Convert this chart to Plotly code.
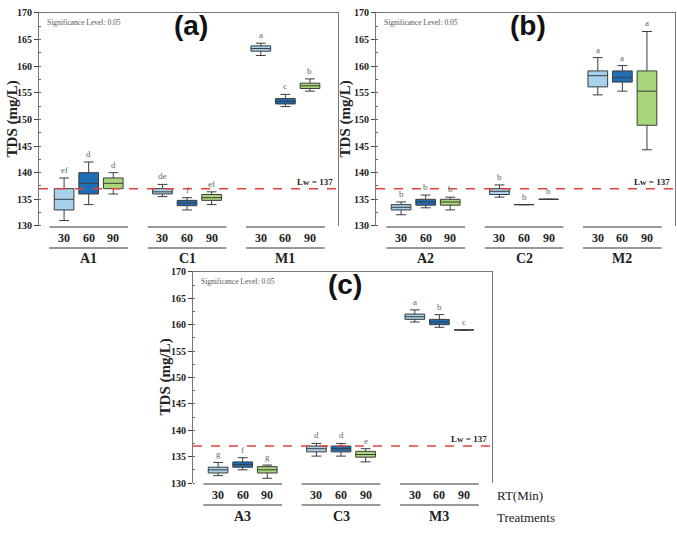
import plotly.graph_objects as go

rt_labels = ["30", "60", "90"]
rt_colors = ["#a8d1ec", "#1f6db5", "#a8d67a"]
limit_value = 137

a_groups = ["A1", "C1", "M1"]
a_lower = [131.0, 134.0, 136.0, 135.5, 133.0, 134.0, 162.0, 152.4, 155.3]
a_q1 = [133.0, 136.0, 137.0, 136.0, 133.8, 134.8, 162.8, 152.9, 155.8]
a_median = [135.0, 138.0, 138.0, 136.4, 134.3, 135.3, 163.3, 153.4, 156.3]
a_q3 = [137.0, 140.0, 139.0, 137.0, 134.8, 135.9, 163.8, 153.9, 156.8]
a_upper = [139.0, 142.0, 140.0, 137.8, 135.3, 136.4, 164.3, 154.7, 157.6]
a_letters = ["ef", "d", "d", "de", "f", "ef", "a", "c", "b"]

b_groups = ["A2", "C2", "M2"]
b_lower = [132.1, 133.4, 133.0, 135.4, 134.0, 135.0, 154.6, 155.3, 144.3]
b_q1 = [133.0, 133.9, 133.9, 135.9, 134.0, 135.0, 156.1, 157.0, 148.9]
b_median = [133.5, 134.5, 134.5, 136.5, 134.0, 135.0, 158.2, 157.9, 155.3]
b_q3 = [134.0, 135.0, 135.0, 137.0, 134.0, 135.0, 159.1, 159.1, 159.1]
b_upper = [134.5, 135.8, 135.4, 137.7, 134.0, 135.0, 161.6, 160.1, 166.5]
b_letters = ["b", "b", "b", "b", "b", "b", "a", "a", "a"]

c_groups = ["A3", "C3", "M3"]
c_lower = [131.4, 132.5, 130.9, 135.1, 135.1, 134.0, 160.5, 159.5, 159.0]
c_q1 = [131.9, 133.0, 131.9, 135.9, 135.9, 134.9, 161.0, 160.0, 159.0]
c_median = [132.5, 133.5, 132.5, 136.5, 136.5, 135.4, 161.5, 160.5, 159.0]
c_q3 = [133.0, 134.0, 133.1, 137.0, 137.0, 136.0, 162.0, 161.0, 159.0]
c_upper = [133.9, 134.8, 133.4, 137.5, 137.5, 136.5, 162.8, 161.9, 159.0]
c_letters = ["g", "f", "g", "d", "d", "e", "a", "b", "c"]

W, H = 677, 533
SERIF = "'Liberation Serif', 'Times New Roman', serif"
SANS = "'Liberation Sans', Arial, sans-serif"

def px_dom_x(a, b):
    return [a / W, b / W]

def px_dom_y(top, bottom):
    return [1 - bottom / H, 1 - top / H]

panels = [
    dict(name="(a)", groups=a_groups, lo=a_lower, q1=a_q1, med=a_median, q3=a_q3, hi=a_upper,
         letters=a_letters, xd=px_dom_x(39, 338), yd=px_dom_y(7, 225), title_x=12, last=False),
    dict(name="(b)", groups=b_groups, lo=b_lower, q1=b_q1, med=b_median, q3=b_q3, hi=b_upper,
         letters=b_letters, xd=px_dom_x(376, 675), yd=px_dom_y(7, 225), title_x=345, last=False),
    dict(name="(c)", groups=c_groups, lo=c_lower, q1=c_q1, med=c_median, q3=c_q3, hi=c_upper,
         letters=c_letters, xd=px_dom_x(193, 492), yd=px_dom_y(272, 488), title_x=165, last=True),
]

fig = go.Figure()
annotations = []
shapes = []
layout = {}

for p_i, p in enumerate(panels):
    sfx = "" if p_i == 0 else str(p_i + 1)
    xa, ya = "x" + sfx, "y" + sfx
    for j in range(3):
        idx = [3 * g + j for g in range(3)]
        xs = [4 * g + j for g in range(3)]
        fig.add_trace(go.Box(
            x=xs,
            q1=[p["q1"][k] for k in idx],
            median=[p["med"][k] for k in idx],
            q3=[p["q3"][k] for k in idx],
            lowerfence=[p["lo"][k] for k in idx],
            upperfence=[p["hi"][k] for k in idx],
            xaxis=xa, yaxis=ya,
            fillcolor=rt_colors[j],
            line=dict(color="#3c3c3c", width=1),
            width=0.8, whiskerwidth=0.5,
            boxpoints=False, showlegend=False, hoverinfo="skip",
        ))
        for g in range(3):
            k = 3 * g + j
            annotations.append(dict(
                x=4 * g + j, y=p["hi"][k], xref=xa, yref=ya,
                text=p["letters"][k], showarrow=False, yanchor="bottom", yshift=1,
                font=dict(family=SERIF, size=9, color="#666666"),
            ))
    layout["xaxis" + sfx] = dict(
        domain=p["xd"], anchor=ya, range=[-1.02, 11.14], side="top",
        showticklabels=False, ticks="", showgrid=False, zeroline=False,
        showline=True, linecolor="#777777", linewidth=1, fixedrange=True,
    )
    layout["yaxis" + sfx] = dict(
        domain=p["yd"], anchor=xa, range=[130, 170], tick0=130, dtick=5,
        ticks="outside", ticklen=4, tickcolor="#444444", tickwidth=1,
        minor=dict(ticks="inside", ticklen=2, dtick=2.5, tickcolor="#666666"),
        showline=True, linecolor="#777777", linewidth=1, mirror=True,
        showgrid=False, zeroline=False, fixedrange=True,
        tickfont=dict(family=SERIF, size=10, color="#222222", weight="bold"),
    )
    shapes.append(dict(type="line", xref=xa + " domain", yref=ya, x0=0, x1=1,
                       y0=limit_value, y1=limit_value,
                       line=dict(color="#e8413c", width=1.5, dash="dash")))
    annotations.append(dict(x=0.99, y=limit_value, xref=xa + " domain", yref=ya,
                            text="Lw = %d" % limit_value, showarrow=False,
                            xanchor="right", yanchor="bottom", yshift=0,
                            font=dict(family=SERIF, size=9, color="#222222", weight="bold")))
    annotations.append(dict(x=0.02, y=0.985, xref=xa + " domain", yref=ya + " domain",
                            text="Significance Level: 0.05", showarrow=False,
                            xanchor="left", yanchor="top",
                            font=dict(family=SERIF, size=7.5, color="#555555")))
    annotations.append(dict(x=0.51, y=0.94, xref=xa + " domain", yref=ya + " domain",
                            text=p["name"], showarrow=False,
                            xanchor="center", yanchor="middle",
                            font=dict(family=SANS, size=28, color="#111111", weight="bold")))
    annotations.append(dict(x=p["title_x"] / W, y=(p["yd"][0] + p["yd"][1]) / 2,
                            xref="paper", yref="paper", text="TDS (mg/L)",
                            showarrow=False, textangle=-90,
                            xanchor="center", yanchor="middle",
                            font=dict(family=SERIF, size=15, color="#222222", weight="bold")))
    for g in range(3):
        for line_off in (-1, -22):
            shapes.append(dict(type="line", xref=xa, yref=ya + " domain",
                               x0=4 * g - 0.6, x1=4 * g + 2.6,
                               ysizemode="pixel", yanchor=0, y0=line_off, y1=line_off,
                               line=dict(color="#777777", width=1.5)))
        for j in range(3):
            annotations.append(dict(x=4 * g + j, y=0, xref=xa, yref=ya + " domain",
                                    text=rt_labels[j], showarrow=False,
                                    yanchor="middle", yshift=-12,
                                    font=dict(family=SERIF, size=12, color="#222222", weight="bold")))
        annotations.append(dict(x=4 * g + 1, y=0, xref=xa, yref=ya + " domain",
                                text=p["groups"][g], showarrow=False,
                                yanchor="middle", yshift=-33,
                                font=dict(family=SERIF, size=14, color="#222222", weight="bold")))
    if p["last"]:
        annotations.append(dict(x=1, y=0, xref=xa + " domain", yref=ya + " domain",
                                text="RT(Min)", showarrow=False, xanchor="left",
                                yanchor="middle", yshift=-12, xshift=3,
                                font=dict(family=SERIF, size=13, color="#222222")))
        annotations.append(dict(x=1, y=0, xref=xa + " domain", yref=ya + " domain",
                                text="Treatments", showarrow=False, xanchor="left",
                                yanchor="middle", yshift=-34, xshift=3,
                                font=dict(family=SERIF, size=13, color="#222222")))

fig.update_layout(
    width=W, height=H,
    margin=dict(l=0, r=0, t=0, b=0),
    paper_bgcolor="white", plot_bgcolor="white",
    annotations=annotations, shapes=shapes,
    **layout,
)

fig.write_html("out.html")
